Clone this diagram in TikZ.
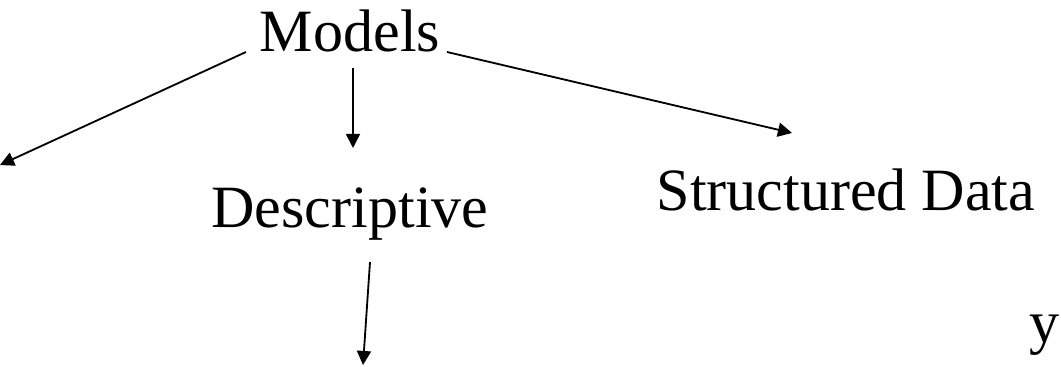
\documentclass[tikz,border=0pt]{standalone}
\usepackage{fontspec}
\setmainfont{Liberation Serif}
\usetikzlibrary{arrows.meta}

\begin{document}
\begin{tikzpicture}[x=0.025cm,y=-0.025cm,
 lbl/.style={inner sep=0pt,font=\fontsize{42.7}{48}\selectfont},
 arr/.style={line width=1.3pt,-{Triangle[length=10pt,width=10pt]}}]
 \useasboundingbox (0,0) rectangle (1061,367); %枠
 \node[lbl,anchor=base] (models) at (350,52) {Models}; %上
 \node[lbl,anchor=base] (descr) at (350,228) {Descriptive}; %中央
 \node[lbl,anchor=base] (sdata) at (846,211) {Structured Data}; %右
 \node[lbl,anchor=base east] (yy) at (1060,343) {y}; %右下
 \coordinate (L) at (0,165); %左の先
 \coordinate (R) at (792,133); %右の先
 \coordinate (B) at (363,365); %下の先
 \draw[arr] ([xshift=-2.6cm]models.base) -- (L);
 \draw[arr] ([xshift=0.075cm,yshift=-0.4cm]models.base) -- ([xshift=0.075cm,yshift=2cm]descr.base);
 \draw[arr] ([xshift=2.425cm]models.base) -- (R);
 \draw[arr] ([xshift=0.5cm,yshift=-0.85cm]descr.base) -- (B);
\end{tikzpicture}
\end{document}
